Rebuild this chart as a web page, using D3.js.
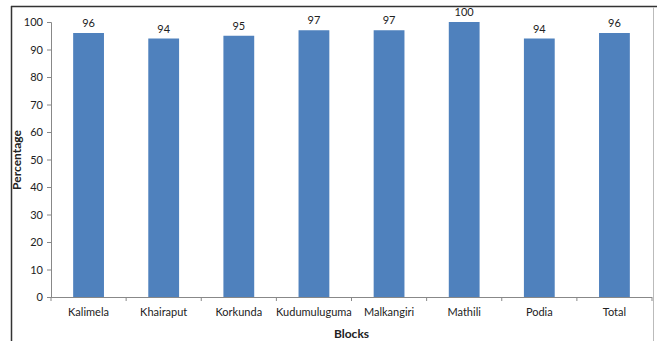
<!DOCTYPE html>
<html><head><meta charset="utf-8">
<script src="https://cdn.jsdelivr.net/npm/d3@7"></script>
<style>body{margin:0;background:#fff;} text{font-family:Lato,"DejaVu Sans",sans-serif;}</style>
</head><body><svg id="c" width="657" height="341"></svg>
<script>
const categories = ["Kalimela","Khairaput","Korkunda","Kudumuluguma","Malkangiri","Mathili","Podia","Total"];
const values = [96,94,95,97,97,100,94,96];
const yTicks = [0,10,20,30,40,50,60,70,80,90,100];

(function(){
const svg = d3.select("#c");
svg.append("line").attr("x1",11.5).attr("x2",11.5).attr("y1",6).attr("y2",341).attr("stroke","#333").attr("stroke-width",1.5);
svg.append("line").attr("x1",11).attr("x2",657).attr("y1",6.5).attr("y2",6.5).attr("stroke","#333").attr("stroke-width",1.5);
svg.append("line").attr("x1",653.5).attr("x2",653.5).attr("y1",7).attr("y2",341).attr("stroke","#bbb").attr("stroke-width",1);

const pLeft=51, pRight=652, pTop=22, pBottom=297;
const x = d3.scaleBand().domain(categories).range([pLeft,pRight]).paddingInner(0.59).paddingOuter(0.295);
const xb = d3.scaleBand().domain(categories).range([pLeft,pRight]);
const y = d3.scaleLinear().domain([0,100]).range([pBottom,pTop]);

const ya = svg.append("g").attr("transform",`translate(${pLeft},0)`)
  .call(d3.axisLeft(y).tickValues(yTicks).tickSize(4).tickPadding(4));
ya.selectAll("path,line").attr("stroke","#888");
ya.selectAll("text").attr("font-size",11).attr("fill","#222");

svg.append("line").attr("x1",pLeft).attr("x2",pRight).attr("y1",pBottom+0.5).attr("y2",pBottom+0.5).attr("stroke","#888");
svg.selectAll(".xt").data(categories.concat(["_end"])).enter().append("line")
  .attr("x1",(d,i)=>pLeft+i*xb.bandwidth()).attr("x2",(d,i)=>pLeft+i*xb.bandwidth())
  .attr("y1",pBottom).attr("y2",pBottom+4).attr("stroke","#888");
svg.selectAll(".xl").data(categories).enter().append("text")
  .attr("x",d=>xb(d)+xb.bandwidth()/2).attr("y",316).attr("text-anchor","middle")
  .attr("font-size",11).attr("fill","#222").text(d=>d);

svg.selectAll(".bar").data(values).enter().append("rect")
  .attr("x",(d,i)=>x(categories[i])).attr("width",x.bandwidth())
  .attr("y",d=>y(d)).attr("height",d=>pBottom-y(d)).attr("fill","#4F81BD");

svg.selectAll(".vl").data(values).enter().append("text")
  .attr("x",(d,i)=>x(categories[i])+x.bandwidth()/2).attr("y",d=>y(d)-6)
  .attr("text-anchor","middle").attr("font-size",11).attr("fill","#222").text(d=>d);

svg.append("text").attr("x",(pLeft+pRight)/2).attr("y",338).attr("text-anchor","middle")
  .attr("font-size",12).attr("font-weight","bold").attr("fill","#222").text("Blocks");
svg.append("text").attr("transform","translate(21,160) rotate(-90)").attr("text-anchor","middle")
  .attr("font-size",12).attr("font-weight","bold").attr("fill","#222").text("Percentage");
})();
</script></body></html>
